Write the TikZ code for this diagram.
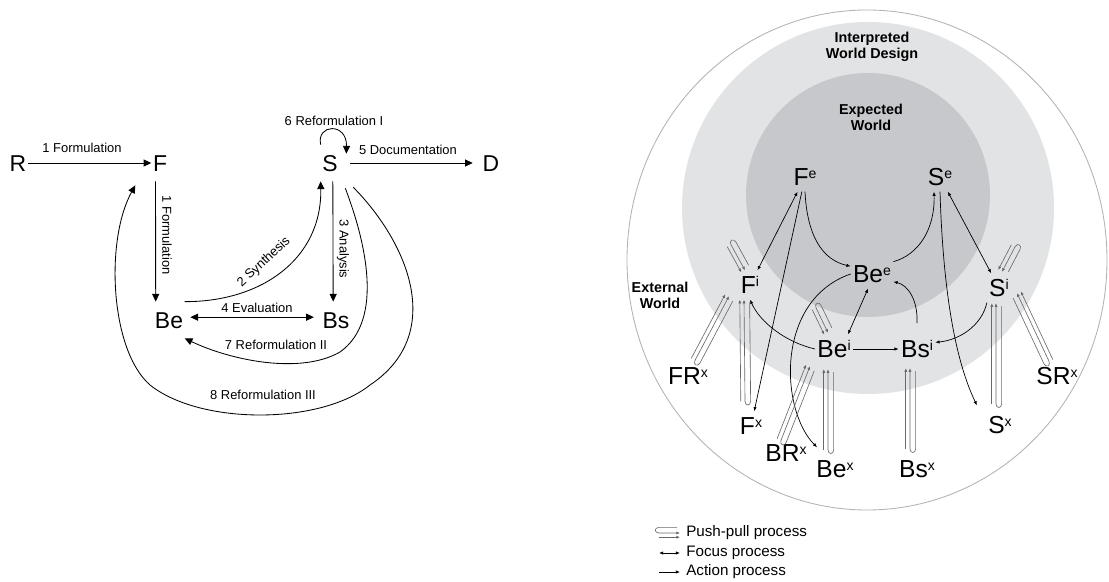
\documentclass[tikz,border=0pt]{standalone}
\usepackage{fontspec}
\setmainfont{Liberation Sans}
\usepackage{tikz}
\usetikzlibrary{arrows.meta, calc}

\definecolor{interpgray}{RGB}{226,227,229}
\definecolor{expectgray}{RGB}{199,200,203}
\definecolor{ppgray}{RGB}{105,105,105}

\tikzstyle{letter} = [font=\fontsize{16.3}{18}\selectfont, inner xsep=1pt, inner ysep=7pt, text height=11.7pt, text depth=0pt]
\tikzstyle{state} = [font=\fontsize{17.5}{19}\selectfont, inner xsep=1.5pt, inner ysep=4pt, text height=12.5pt, text depth=0pt]
\tikzstyle{note} = [font=\fontsize{9.2}{11}\selectfont, inner sep=0pt]
\tikzstyle{world} = [font=\bfseries\fontsize{10.2}{11.5}\selectfont, align=center, inner sep=0pt]
\tikzstyle{legendtext} = [font=\fontsize{10.8}{12}\selectfont, anchor=west, inner sep=0pt]
\tikzstyle{flow} = [line width=0.6pt, -{Triangle[length=5.5pt,width=5pt]}]
\tikzstyle{action} = [line width=0.5pt, -{Latex[length=3pt,width=2.4pt]}]
\tikzstyle{focus} = [line width=0.5pt, {Latex[length=3pt,width=2.4pt]}-{Latex[length=3pt,width=2.4pt]}]
\tikzstyle{pp} = [line width=0.45pt, draw=ppgray]

% superscript of a state
\newcommand{\spx}[1]{\raisebox{5.2pt}{\fontsize{10}{12}\selectfont #1}}

% push-pull: straight leg plus hairpin, #2 source, #3 target, #1 side of the hairpin
\newcommand{\pushpull}[3][1]{%
  \pgfmathsetmacro\ppin{-3*#1}%
  \pgfmathsetmacro\ppout{4*#1}%
  \draw[pp, -{Latex[length=2.6pt,width=2.2pt]}] ($(#2)!\ppin pt!90:(#3)$) -- ($(#3)!\ppin pt!-90:(#2)$);
  \draw[pp, {Latex[length=2.6pt,width=2.2pt]}-] (#3) -- (#2)
    .. controls ($(#2)!-3.5pt!(#3)$) and ($($(#2)!-3.5pt!(#3)$)!\ppout pt!90:(#3)$) .. ($(#2)!\ppout pt!90:(#3)$)
    -- ($($(#3)!2pt!(#2)$)!\ppout pt!-90:(#2)$);
}

\begin{document}
\begin{tikzpicture}[x=0.025cm, y=-0.025cm]
  \useasboundingbox (0,0) rectangle (1109,582);

  % Left: design steps
  \node (R) [letter] at (18,163) {R};
  \node (F) [letter] at (160,163) {F};
  \node (S) [letter] at (330,163) {S};
  \node (D) [letter] at (491,163) {D};
  \node (Be) [letter] at (169,320) {Be};
  \node (Bs) [letter] at (336,320) {Bs};

  \draw[flow] (R) -- (F);
  \draw[flow] ([xshift=3pt]F.south west) -- ([xshift=1.7pt]Be.north west);
  \draw[flow] ([xshift=2pt]S.south) -- ([xshift=-2pt]Bs.north);
  \draw[flow, shorten <=7.8pt, shorten >=5.9pt] (S) -- (D);
  \draw[flow, {Triangle[length=5.5pt,width=5pt]}-{Triangle[length=5.5pt,width=5pt]}, shorten <=4pt, shorten >=5pt] ([yshift=2pt]Be.east) -- ([yshift=2pt]Bs.west);
  \draw[flow] (S.north west) .. controls (316,124) and (347,122) .. ([shift={(7,9)}]S.north east);
  \draw[flow] (Be.north east) .. controls (260,302) and (322,260) .. (S.south west);
  \draw[flow] ([shift={(6,7)}]S.south east) .. controls (365,240) and (385,320) .. (340,352)
    .. controls (300,375) and (230,360) .. (Be.south east);
  \draw[flow] ([shift={(14,6)}]S.south east) .. controls (410,245) and (445,335) .. (370,385)
    .. controls (320,425) and (200,425) .. (150,385)
    .. controls (110,350) and (105,240) .. ([shift={(-16,4)}]F.south west);

  \node (lRF) [note] at (82,148) {1 Formulation};
  \node (lFBe) [note, rotate=-90] at (167,235) {1 Formulation};
  \node (lSyn) [note, rotate=43] at (264,262) {2 Synthesis};
  \node (lAna) [note, rotate=-90] at (343,249) {3 Analysis};
  \node (lEva) [note] at (257,308) {4 Evaluation};
  \node (lDoc) [note] at (408,150) {5 Documentation};
  \node (lRefI) [note] at (334,121) {6 Reformulation I};
  \node (lRefII) [note] at (276,345) {7 Reformulation II};
  \node (lRefIII) [note] at (263,395) {8 Reformulation III};

  % Right: the three worlds
  \draw[gray!60, line width=0.6pt, fill=white] (867,260) ellipse [x radius=240, y radius=250];
  \fill[interpgray] (868,208) circle [radius=186];
  \fill[expectgray] (868,195) circle [radius=122];

  \node (interp) [world] at (872,47) {Interpreted\\World Design};
  \node (expect) [world] at (871,117) {Expected\\World};
  \node (extern) [world] at (660,295) {External\\World};

  \node (Fe) [state] at (805,177) {F\spx{e}};
  \node (Se) [state] at (940,177) {S\spx{e}};
  \node (Bee) [state] at (872,274) {Be\spx{e}};
  \node (Fi) [state] at (750,285) {F\spx{i}};
  \node (Si) [state] at (999,288) {S\spx{i}};
  \node (Bei) [state] at (834,349) {Be\spx{i}};
  \node (Bsi) [state] at (917,349) {Bs\spx{i}};
  \node (FRx) [state] at (688,376) {FR\spx{x}};
  \node (Fx) [state] at (751,426) {F\spx{x}};
  \node (BRx) [state] at (786,453) {BR\spx{x}};
  \node (Bex) [state] at (835,469) {Be\spx{x}};
  \node (Bsx) [state] at (917,469) {Bs\spx{x}};
  \node (Sx) [state] at (1000,425) {S\spx{x}};
  \node (SRx) [state] at (1057,376) {SR\spx{x}};

  % focus and action
  \draw[focus] (Fe) -- (Fi);
  \draw[focus] (Se) -- (Si);
  \draw[focus] ([shift={(-5,0)}]Bei.north east) -- ([shift={(-4,0)}]Bee.south);
  \draw[action] (Fe) -- (Fx);
  \draw[action] (Fe.south) .. controls (807,235) and (822,260) .. (Bee.160);
  \draw[action] (Bee.30) .. controls (918,255) and (935,230) .. ([shift={(-6,0)}]Se.south);
  \draw[action] (Se.south) .. controls (943,290) and (955,360) .. ([shift={(-9,-5)}]Sx.north west);
  \draw[action] (Bee.west) .. controls (775,300) and (780,410) .. ([shift={(3,-7)}]Bex.north west);
  \draw[action] ([yshift=8pt]Bsi.north) .. controls (918,300) and (908,285) .. (Bee.-20);
  \draw[action] (Si.south west) .. controls (982,325) and (960,340) .. (Bsi.20);
  \draw[action] (Bei.west) .. controls (785,342) and (760,322) .. (Fi.south);
  \draw[action] (Bei) -- (Bsi);

  % push-pull
  \coordinate (ppFRx) at ([shift={(7,-1)}]FRx.north);
  \coordinate (ppFiFR) at ([shift={(-21,-3.5)}]Fi.south);
  \coordinate (ppFx) at ([shift={(-6,-10)}]Fx.north);
  \coordinate (ppFiF) at ([shift={(-6,0)}]Fi.south);
  \coordinate (ppBRx) at ([shift={(-5,2)}]BRx.north);
  \coordinate (ppBeiBR) at ([shift={(-24,2.5)}]Bei.south);
  \coordinate (ppBex) at ([shift={(-7,-4.5)}]Bex.north);
  \coordinate (ppBeiBe) at ([shift={(-6,5.5)}]Bei.south);
  \coordinate (ppBsx) at ([shift={(-7,-5.5)}]Bsx.north);
  \coordinate (ppBsi) at ([shift={(-7,4.5)}]Bsi.south);
  \coordinate (ppSx) at ([shift={(-4,-6.5)}]Sx.north);
  \coordinate (ppSiS) at ([shift={(-3,0.5)}]Si.south);
  \coordinate (ppSRx) at ([shift={(-8,0)}]SRx.north);
  \coordinate (ppSiSR) at ([shift={(18,-9.5)}]Si.south);
  \coordinate (ppFiTop) at ([shift={(-19,-25.5)}]Fi.north);
  \coordinate (ppFiIn) at ([shift={(-5,0)}]Fi.north);
  \coordinate (ppSiTop) at ([shift={(16,-26.5)}]Si.north);
  \coordinate (ppSiIn) at ([shift={(3,-1.5)}]Si.north);
  \coordinate (ppBeiTop) at ([shift={(-18,-26.5)}]Bei.north);
  \coordinate (ppBeiIn) at ([shift={(-6,-1.5)}]Bei.north);

  \pushpull[-1]{ppFRx}{ppFiFR}
  \pushpull[-1]{ppFx}{ppFiF}
  \pushpull[-1]{ppBRx}{ppBeiBR}
  \pushpull[-1]{ppBex}{ppBeiBe}
  \pushpull[-1]{ppBsx}{ppBsi}
  \pushpull[-1]{ppSx}{ppSiS}
  \pushpull{ppSRx}{ppSiSR}
  \pushpull{ppFiTop}{ppFiIn}
  \pushpull{ppSiTop}{ppSiIn}
  \pushpull{ppBeiTop}{ppBeiIn}

  % legend
  \coordinate (lgPPa) at (659,533);
  \coordinate (lgPPb) at (680,533);
  \coordinate (lgFa) at (659,553);
  \coordinate (lgFb) at (680,553);
  \coordinate (lgAa) at (659,572);
  \coordinate (lgAb) at (680,572);
  \pushpull{lgPPa}{lgPPb}
  \draw[focus] (lgFa) -- (lgFb);
  \draw[action] (lgAa) -- (lgAb);
  \node (lgPP) [legendtext] at (686,533) {Push-pull process};
  \node (lgF) [legendtext] at (686,553) {Focus process};
  \node (lgA) [legendtext] at (686,572) {Action process};
\end{tikzpicture}
\end{document}
